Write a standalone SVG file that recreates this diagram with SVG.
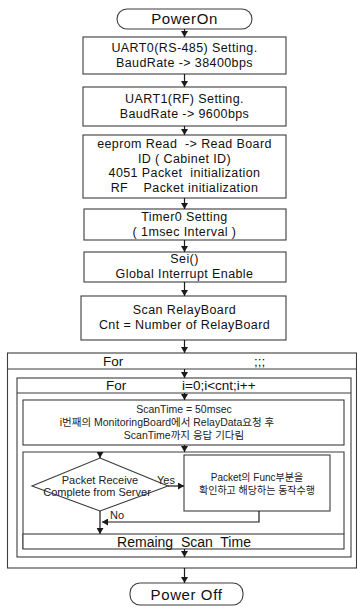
<svg xmlns="http://www.w3.org/2000/svg" width="357" height="607" viewBox="0 0 357 607">
  <defs>
    <marker id="arrow" viewBox="0 0 6 7" refX="6" refY="3.5" markerWidth="6" markerHeight="7" markerUnits="userSpaceOnUse" orient="auto">
      <path d="M0,0 L6,3.5 L0,7 z" fill="#1a1a1a"/>
    </marker>
  </defs>
  <style>
    .box{fill:#fff;stroke:#3c3c3c;stroke-width:1.1}
    .frame{fill:none;stroke:#3c3c3c;stroke-width:1.1}
    .t{font-family:"Liberation Sans",Arial,sans-serif;font-size:12.5px;letter-spacing:0.4px;fill:#111;text-anchor:middle}
    .term{font-family:"Liberation Sans",Arial,sans-serif;font-size:15px;letter-spacing:0.6px;fill:#111;text-anchor:middle}
    .h{font-family:"Liberation Sans",Arial,sans-serif;font-size:13.5px;fill:#111}
    .s{font-family:"Liberation Sans","Noto Sans CJK KR",sans-serif;font-size:10.5px;fill:#222;text-anchor:middle}
    .d{font-family:"Liberation Sans","Noto Sans CJK KR",sans-serif;font-size:11px;fill:#222}
    .c{fill:none;stroke:#1a1a1a;stroke-width:1.2;marker-end:url(#arrow)}
  </style>
  <rect width="357" height="607" fill="#fff"/>

  <!-- start terminator -->
  <g id="power-on">
    <rect class="box" x="117" y="9" width="135" height="20" rx="10" ry="10"/>
    <text class="term" x="184.5" y="24">PowerOn</text>
  </g>

  <g id="uart0">
    <rect class="box" x="83" y="37" width="203" height="37"/>
    <text class="t" x="184.5" y="52">UART0(RS-485) Setting.</text>
    <text class="t" x="184.5" y="67">BaudRate -&gt; 38400bps</text>
  </g>

  <g id="uart1">
    <rect class="box" x="83" y="87" width="203" height="39"/>
    <text class="t" x="184.5" y="103">UART1(RF) Setting.</text>
    <text class="t" x="184.5" y="118">BaudRate -&gt; 9600bps</text>
  </g>

  <g id="eeprom">
    <rect class="box" x="83" y="135" width="203" height="63"/>
    <text class="t" x="184.5" y="148" xml:space="preserve">eeprom Read  -&gt; Read Board</text>
    <text class="t" x="184.5" y="162.5">ID ( Cabinet ID)</text>
    <text class="t" x="184.5" y="177" xml:space="preserve">4051 Packet  initialization</text>
    <text class="t" x="184.5" y="191.5" xml:space="preserve">RF    Packet initialization</text>
  </g>

  <g id="timer0">
    <rect class="box" x="84" y="209" width="202" height="31"/>
    <text class="t" x="184.5" y="221">Timer0 Setting</text>
    <text class="t" x="184.5" y="235.5">( 1msec Interval )</text>
  </g>

  <g id="sei">
    <rect class="box" x="84" y="252" width="202" height="30"/>
    <text class="t" x="184.5" y="263">Sei()</text>
    <text class="t" x="184.5" y="277.5">Global Interrupt Enable</text>
  </g>

  <g id="scan-relay">
    <rect class="box" x="81" y="296" width="205" height="44"/>
    <text class="t" x="184.5" y="314">Scan RelayBoard</text>
    <text class="t" x="184.5" y="329">Cnt = Number of RelayBoard</text>
  </g>

  <!-- endless outer loop -->
  <g id="loop-outer">
    <rect class="frame" x="7.5" y="353" width="349" height="215"/>
    <line class="frame" x1="7.5" y1="369" x2="356.5" y2="369"/>
    <text class="h" x="103" y="366">For</text>
    <text class="h" x="254" y="366">;;;</text>
  </g>

  <!-- loop over relay boards -->
  <g id="loop-inner">
    <rect class="frame" x="17" y="378" width="334" height="179"/>
    <line class="frame" x1="17" y1="393" x2="351" y2="393"/>
    <text class="h" x="106" y="390">For</text>
    <text class="h" x="182" y="390">i=0;i&lt;cnt;i++</text>
  </g>

  <g id="scan-time">
    <rect class="box" x="23" y="400" width="321" height="45"/>
    <text class="s" x="184" y="413">ScanTime = 50msec</text>
    <text class="s" x="167" y="426">i번째의 MonitoringBoard에서 RelayData요청 후</text>
    <text class="s" x="184" y="439">ScanTime까지 응답 기다림</text>
  </g>

  <!-- wait loop body, closed by the remaining-time condition -->
  <g id="wait-loop">
    <path class="frame" d="M23,549 V452 H344 V534"/>
  </g>

  <g id="packet-check">
    <polygon class="box" points="100,458 168,486 100,511 32,486"/>
    <text class="d" x="100" y="484" text-anchor="middle">Packet Receive</text>
    <text class="d" x="97" y="496" text-anchor="middle">Complete from Server</text>
  </g>

  <g id="packet-handle">
    <rect class="box" x="184" y="455" width="146" height="56"/>
    <text class="s" x="257" y="481" style="font-size:10px">Packet의 Func부분을</text>
    <text class="s" x="257" y="494" style="font-size:10px">확인하고 해당하는 동작수행</text>
  </g>

  <g id="remaining">
    <rect class="box" x="23" y="534" width="321" height="15"/>
    <text class="t" x="184" y="547" xml:space="preserve" style="font-size:14px;letter-spacing:0">Remaing  Scan  Time</text>
  </g>

  <!-- end terminator -->
  <g id="power-off">
    <rect class="box" x="130" y="583" width="113" height="22" rx="10" ry="10"/>
    <text class="term" x="186.5" y="600">Power Off</text>
  </g>

  <g id="connectors">
    <line class="c" x1="184.5" y1="29" x2="184.5" y2="37"/>
    <line class="c" x1="184.5" y1="74" x2="184.5" y2="87"/>
    <line class="c" x1="184.5" y1="126" x2="184.5" y2="135"/>
    <line class="c" x1="184.5" y1="198" x2="184.5" y2="209"/>
    <line class="c" x1="184.5" y1="240" x2="184.5" y2="252"/>
    <line class="c" x1="184.5" y1="282" x2="184.5" y2="296"/>
    <line class="c" x1="184.5" y1="340" x2="184.5" y2="353"/>
    <line class="c" x1="184.5" y1="369" x2="184.5" y2="378"/>
    <line class="c" x1="184.5" y1="393" x2="184.5" y2="400"/>
    <line class="c" x1="184.5" y1="445" x2="184.5" y2="452"/>
    <line class="c" x1="100" y1="452" x2="100" y2="458"/>
    <line class="c" x1="168" y1="486" x2="184" y2="486"/>
    <text class="d" x="157" y="484">Yes</text>
    <line class="c" x1="100" y1="511" x2="100" y2="534"/>
    <text class="d" x="110" y="519">No</text>
    <polyline class="c" points="259,511 259,522 102,522"/>
    <line class="c" x1="184.5" y1="549" x2="184.5" y2="557"/>
    <line class="c" x1="184.5" y1="568" x2="184.5" y2="583"/>
  </g>
</svg>
